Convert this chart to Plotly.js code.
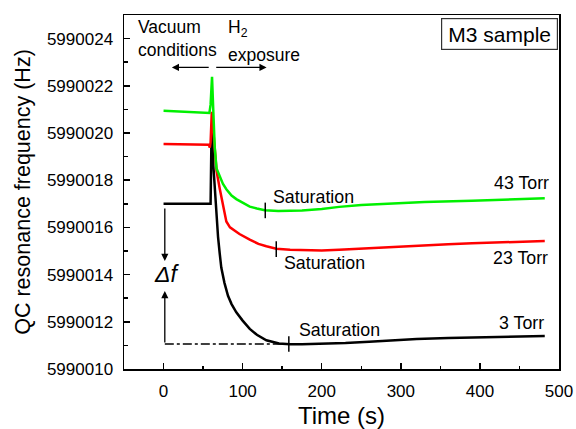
<!DOCTYPE html>
<html>
<head>
<meta charset="utf-8">
<script src="https://cdn.plot.ly/plotly-3.0.1.min.js"></script>
<style>
html,body{margin:0;padding:0;background:#fff;}
#chart{width:576px;height:429px;}
</style>
</head>
<body>
<div id="chart"></div>
<script>
// Time (s)
const timeBlack = [0, 20, 40, 58, 59.5, 60.5, 61.5, 63, 64.7, 66.8, 68.9, 71, 73, 77, 81.5, 86, 92, 100, 109, 118, 130, 146, 160, 175, 200, 230, 260, 290, 320, 360, 400, 440, 482];
const freq3Torr = [5990017.0, 5990017.0, 5990017.0, 5990017.0, 5990017.0, 5990019.6, 5990020.4, 5990018.6, 5990017.6, 5990016.7, 5990015.6, 5990014.9, 5990014.3, 5990013.65, 5990013.1, 5990012.75, 5990012.4, 5990012.05, 5990011.7, 5990011.45, 5990011.22, 5990011.08, 5990011.05, 5990011.05, 5990011.07, 5990011.1, 5990011.15, 5990011.22, 5990011.27, 5990011.31, 5990011.35, 5990011.37, 5990011.4];

const timeRed = [0, 20, 40, 57.5, 58.5, 59.5, 61, 62.5, 64.7, 67, 71, 75, 79.4, 84, 88, 96, 109, 120, 130, 142.5, 160, 180, 200, 222, 250, 285, 320, 360, 390, 440, 482];
const freq23Torr = [5990019.53, 5990019.52, 5990019.52, 5990019.5, 5990019.38, 5990019.6, 5990020.9, 5990020.3, 5990019.3, 5990018.4, 5990017.65, 5990016.9, 5990016.25, 5990016.0, 5990015.9, 5990015.72, 5990015.48, 5990015.3, 5990015.2, 5990015.1, 5990015.05, 5990015.02, 5990015.02, 5990015.05, 5990015.1, 5990015.18, 5990015.24, 5990015.29, 5990015.33, 5990015.38, 5990015.42];

const timeGreen = [0, 20, 40, 58, 59.5, 61.3, 62.6, 64.7, 67, 71, 75, 79.4, 86, 92, 100, 109, 118, 128, 145, 160, 175, 200, 222, 250, 285, 330, 390, 440, 482];
const freq43Torr = [5990020.94, 5990020.9, 5990020.87, 5990020.85, 5990021.2, 5990022.38, 5990021.2, 5990019.4, 5990018.5, 5990018.15, 5990017.85, 5990017.62, 5990017.35, 5990017.2, 5990017.05, 5990016.88, 5990016.8, 5990016.73, 5990016.69, 5990016.7, 5990016.72, 5990016.78, 5990016.87, 5990016.95, 5990017.02, 5990017.08, 5990017.13, 5990017.18, 5990017.23];

const seriesLabels = ["3 Torr", "23 Torr", "43 Torr"];
const satTimes = [158.4, 142.5, 128.6];
const satFreqs = [5990011.06, 5990015.08, 5990016.72];

const xTickVals = [0, 100, 200, 300, 400, 500];
const yTickVals = [5990010, 5990012, 5990014, 5990016, 5990018, 5990020, 5990022, 5990024];

const FONT = "Arial, 'Liberation Sans', sans-serif";

const traces = [
  {x: timeBlack, y: freq3Torr, mode: 'lines', line: {color: '#000000', width: 2.5}, name: seriesLabels[0]},
  {x: timeRed, y: freq23Torr, mode: 'lines', line: {color: '#ff0000', width: 2.5}, name: seriesLabels[1]},
  {x: timeGreen, y: freq43Torr, mode: 'lines', line: {color: '#00f000', width: 2.5}, name: seriesLabels[2]}
];

const shapes = [];
// saturation tick marks
satTimes.forEach((t, i) => {
  shapes.push({type: 'line', xref: 'x', yref: 'y', x0: t, x1: t, y0: satFreqs[i] - 0.33, y1: satFreqs[i] + 0.33, line: {color: '#000', width: 1.5}});
});
// dash-dot baseline for delta f
shapes.push({type: 'line', xref: 'x', yref: 'y', x0: 1.6, x1: satTimes[0], y0: satFreqs[0], y1: satFreqs[0], line: {color: '#000', width: 1.3, dash: 'dashdot'}});

const txt = (text, x, y, xa, size, extra) => Object.assign({
  text: text, x: x, y: y, xref: 'x', yref: 'y', xanchor: xa, yanchor: 'middle',
  showarrow: false, font: {family: FONT, size: size, color: '#000'}
}, extra || {});

const arrow = (x, y, ax, ay) => ({
  text: '', x: x, y: y, ax: ax, ay: ay, xref: 'x', yref: 'y', axref: 'x', ayref: 'y',
  showarrow: true, arrowhead: 2, arrowsize: 1.1, arrowwidth: 1.3, arrowcolor: '#000', standoff: 0, startstandoff: 0
});

const annotations = [
  txt('Vacuum<br>conditions', -34.9, 5990023.99, 'left', 17.5, {align: 'left'}),
  txt('H<sub>2</sub>', 78.6, 5990024.44, 'left', 17.5),
  txt('exposure', 78.6, 5990023.29, 'left', 17.5),
  arrow(10.5, 5990022.78, 59, 5990022.78),
  arrow(130.3, 5990022.78, 64.7, 5990022.78),
  txt('Saturation', 136.2, 5990017.28, 'left', 17.8),
  txt('Saturation', 150.1, 5990014.48, 'left', 17.8),
  txt('Saturation', 168.5, 5990011.67, 'left', 17.8),
  txt(seriesLabels[2], 489.7, 5990017.89, 'right', 17.8),
  txt(seriesLabels[1], 488.4, 5990014.72, 'right', 17.8),
  txt(seriesLabels[0], 483.3, 5990011.93, 'right', 17.8),
  txt('<i>Δf</i>', 3.8, 5990014.01, 'center', 23),
  arrow(1.6, 5990014.58, 1.6, 5990016.86),
  arrow(1.6, 5990013.3, 1.6, satFreqs[0]),
  {text: 'M3 sample', xref: 'paper', yref: 'paper', x: 0.863, y: 0.946, xanchor: 'center', yanchor: 'middle',
   showarrow: false, font: {family: FONT, size: 21, color: '#000'}, bordercolor: '#333', borderwidth: 1.2,
   borderpad: 1, width: 113, height: 28, bgcolor: '#fff'}
];

const layout = {
  width: 576, height: 429,
  margin: {l: 124, r: 17, t: 15, b: 60, pad: 0},
  paper_bgcolor: '#fff', plot_bgcolor: '#fff',
  showlegend: false,
  font: {family: FONT, size: 17, color: '#000'},
  xaxis: {
    range: [-50, 500], tickvals: xTickVals, ticks: 'inside', ticklen: 6, tickwidth: 1.5, tickcolor: '#000',
    showgrid: false, zeroline: false, showline: true, linecolor: '#000', linewidth: 1.5, mirror: true,
    tickfont: {family: FONT, size: 17}, ticklabelstandoff: 6,
    minor: {dtick: 50, tick0: 0, ticks: 'inside', ticklen: 3.5, tickwidth: 1.5, tickcolor: '#000', showgrid: false},
    title: {text: 'Time (s)', font: {family: FONT, size: 24}, standoff: 9}
  },
  yaxis: {
    range: [5990010, 5990025], tickvals: yTickVals, tickformat: 'd', ticks: 'inside', ticklen: 6, tickwidth: 1.5, tickcolor: '#000',
    showgrid: false, zeroline: false, showline: true, linecolor: '#000', linewidth: 1.5, mirror: true,
    tickfont: {family: FONT, size: 17}, ticklabelstandoff: 6,
    minor: {dtick: 1, tick0: 5990010, ticks: 'inside', ticklen: 3.5, tickwidth: 1.5, tickcolor: '#000', showgrid: false},
    title: {text: 'QC resonance frequency (Hz)', font: {family: FONT, size: 21.5}, standoff: 10}
  },
  shapes: shapes,
  annotations: annotations
};

Plotly.newPlot('chart', traces, layout, {staticPlot: true, displayModeBar: false});
</script>
</body>
</html>
